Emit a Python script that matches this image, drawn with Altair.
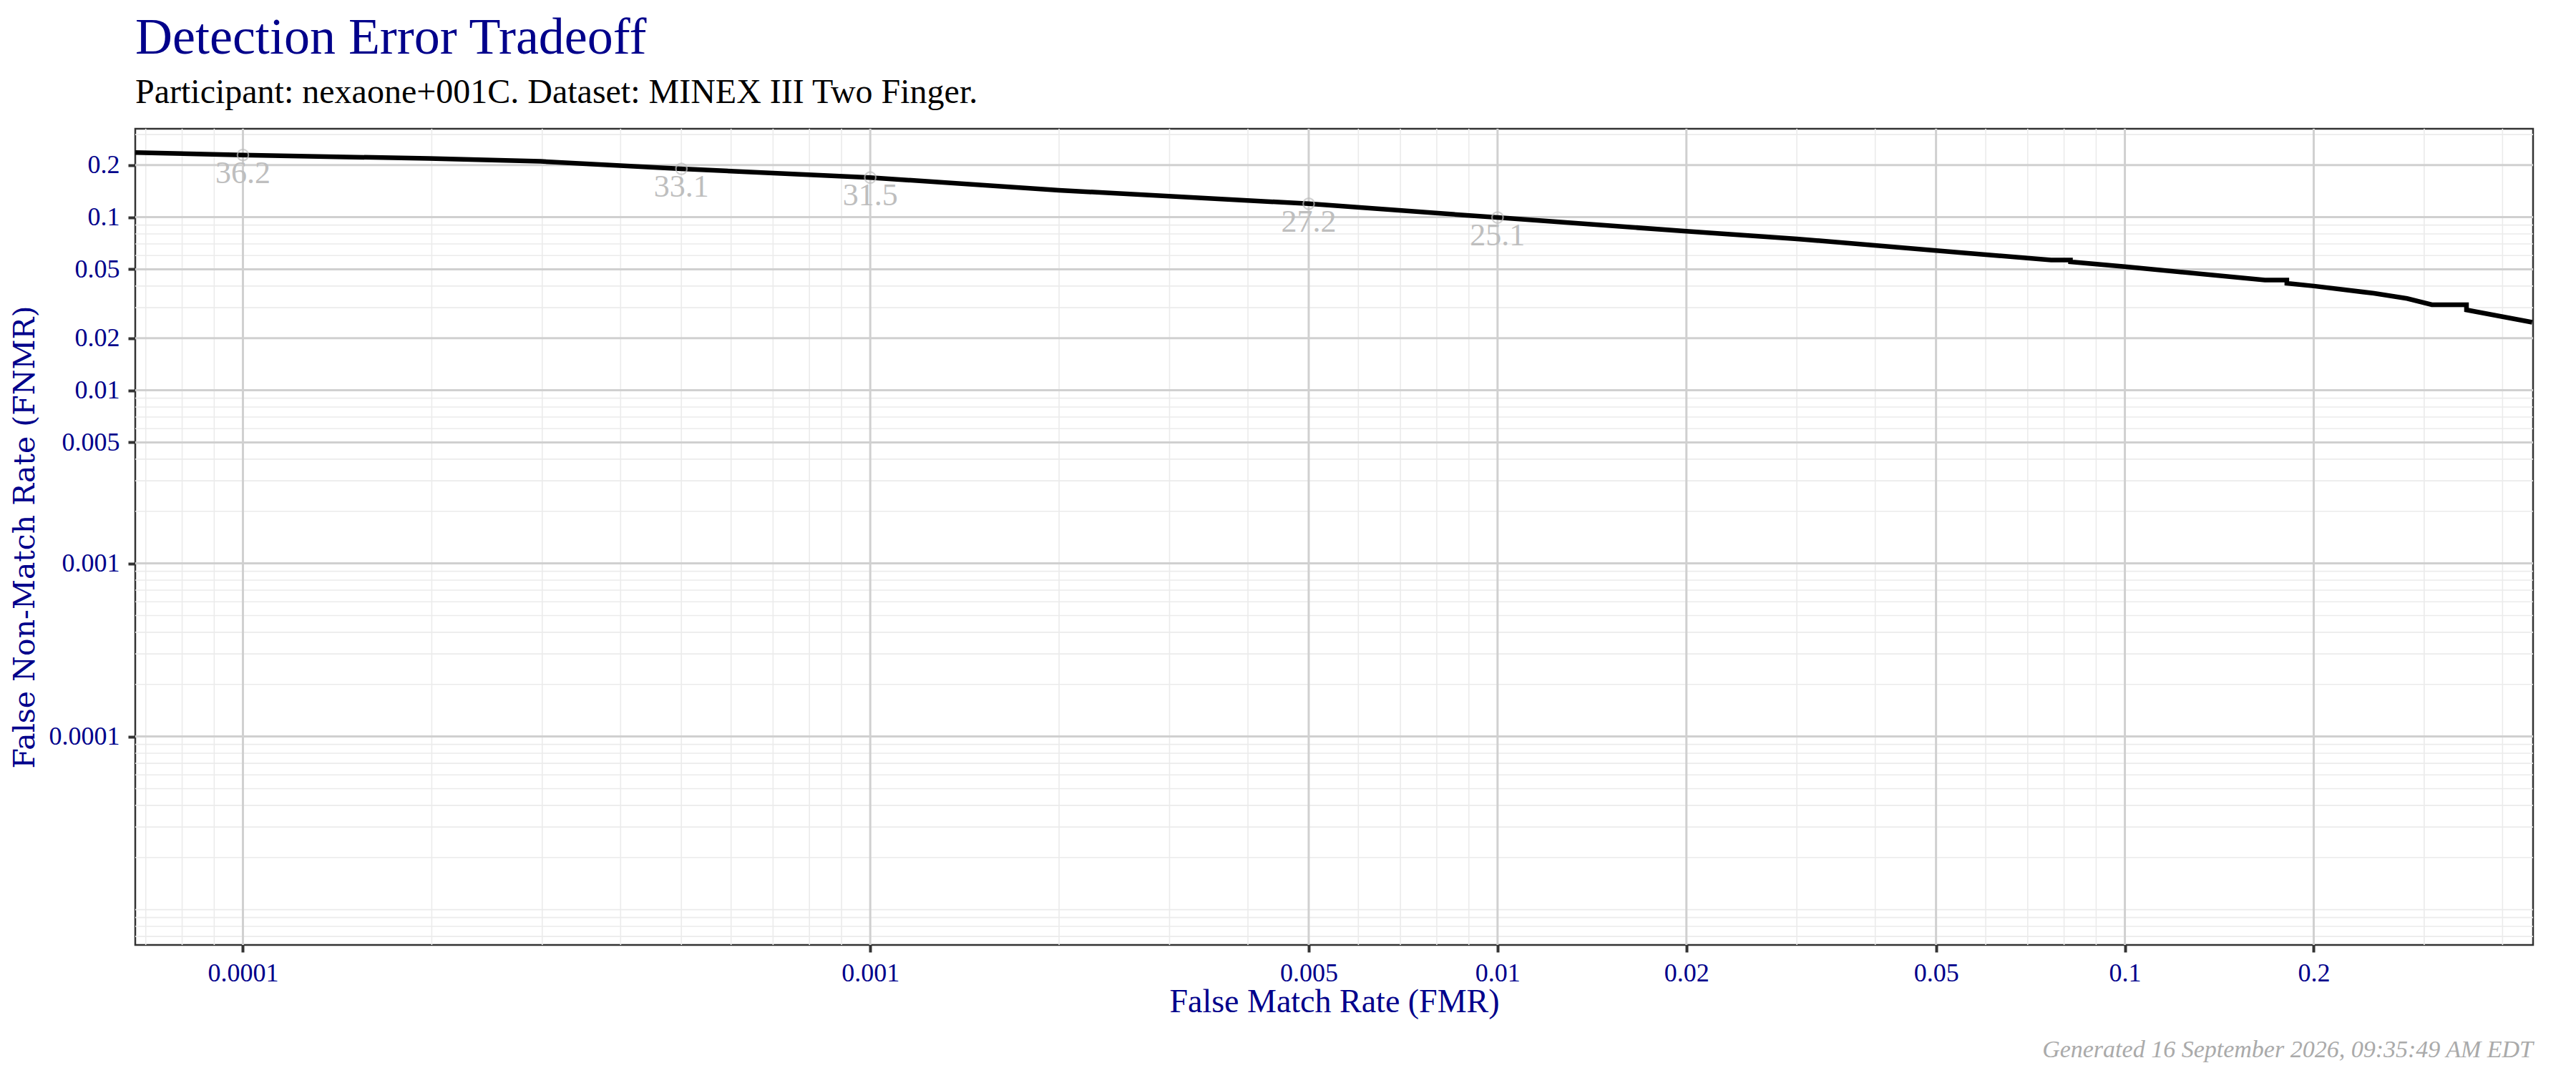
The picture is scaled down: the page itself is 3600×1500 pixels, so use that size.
import altair as alt
import pandas as pd

# ---- data ----
FMR = [6.74e-5, 1.0e-4, 1.98e-4, 2.98e-4, 5.0e-4, 0.001, 0.002, 0.005, 0.01,
       0.02, 0.030, 0.050, 0.0763, 0.0819, 0.0819, 0.1, 0.1672, 0.1812, 0.1812,
       0.2002, 0.2496, 0.2817, 0.3086, 0.3504, 0.3504, 0.4459]
FNMR = [0.2361, 0.2286, 0.2181, 0.2100, 0.1902, 0.1693, 0.1430, 0.1195, 0.0995,
        0.0829, 0.0749, 0.0641, 0.0565, 0.0565, 0.0552, 0.0518, 0.0433, 0.0433, 0.0415,
        0.0400, 0.0363, 0.0339, 0.0312, 0.0312, 0.0291, 0.0247]

ANN_FMR = [1e-4, 5e-4, 1e-3, 5e-3, 1e-2]
ANN_FNMR = [0.2286, 0.1902, 0.1693, 0.1195, 0.0995]
ANN_LABEL = ["36.2", "33.1", "31.5", "27.2", "25.1"]

X_BREAKS = [0.0001, 0.001, 0.005, 0.01, 0.02, 0.05, 0.1, 0.2]
Y_BREAKS = [0.0001, 0.001, 0.005, 0.01, 0.02, 0.05, 0.1, 0.2]
X_DOMAIN = [6.735e-5, 0.4474]
Y_DOMAIN = [6.25e-6, 0.324]

TITLE = "Detection Error Tradeoff"
SUBTITLE = "Participant: nexaone+001C. Dataset: MINEX III Two Finger."
X_TITLE = "False Match Rate (FMR)"
Y_TITLE = "False Non-Match Rate (FNMR)"
CAPTION = "Generated 16 September 2026, 09:35:49 AM EDT"


def minor_values(lo, hi, majors):
    out = []
    for e in range(-7, 1):
        for k in range(1, 10):
            v = float(f"{k}e{e}")
            if lo <= v <= hi and not any(abs(v - m) / m < 1e-9 for m in majors):
                out.append(v)
    return out


X_MINOR = minor_values(*X_DOMAIN, X_BREAKS)
Y_MINOR = minor_values(*Y_DOMAIN, Y_BREAKS)

W, H = 3351, 1141
BLUE = "#00008B"
SERIF = "Liberation Serif"

xs = alt.Scale(type="log", domain=X_DOMAIN, nice=False)
ys = alt.Scale(type="log", domain=Y_DOMAIN, nice=False)

x_axis = alt.Axis(values=X_BREAKS, labelExpr="'' + datum.value", title=X_TITLE,
                  titlePadding=0)
y_axis = alt.Axis(values=Y_BREAKS, labelExpr="'' + datum.value", title=Y_TITLE,
                  titleFont="DejaVu Serif", titleFontSize=41, titlePadding=12)

curve = pd.DataFrame({"fmr": FMR, "fnmr": FNMR, "i": list(range(len(FMR)))})
ann = pd.DataFrame({"fmr": ANN_FMR, "fnmr": ANN_FNMR, "label": ANN_LABEL})
xminor = pd.DataFrame({"fmr": X_MINOR})
yminor = pd.DataFrame({"fnmr": Y_MINOR})
xmajor = pd.DataFrame({"fmr": X_BREAKS})
ymajor = pd.DataFrame({"fnmr": Y_BREAKS})
cap = pd.DataFrame({"t": [CAPTION]})

grid_minor_c = "#ebebeb"
grid_major_c = "#d0d0d0"

X = alt.X("fmr:Q", scale=xs, axis=x_axis)
Y = alt.Y("fnmr:Q", scale=ys, axis=y_axis)

l_xminor = alt.Chart(xminor).mark_rule(color=grid_minor_c, strokeWidth=1.6).encode(x=X)
l_yminor = alt.Chart(yminor).mark_rule(color=grid_minor_c, strokeWidth=1.6).encode(y=Y)
l_xmajor = alt.Chart(xmajor).mark_rule(color=grid_major_c, strokeWidth=3).encode(x=X)
l_ymajor = alt.Chart(ymajor).mark_rule(color=grid_major_c, strokeWidth=3).encode(y=Y)

l_line = alt.Chart(curve).mark_line(color="black", strokeWidth=6.5, clip=True).encode(
    x=X, y=Y, order="i:Q")

l_pts = alt.Chart(ann).mark_point(shape="circle", filled=False, color="#bebebe",
                                  strokeWidth=2.2, size=240).encode(x=X, y=Y)

l_txt = alt.Chart(ann).mark_text(font=SERIF, fontSize=44, color="#bebebe",
                                 baseline="alphabetic", align="center", dy=39).encode(
    x=X, y=Y, text="label:N")

l_cap = alt.Chart(cap).mark_text(font=SERIF, fontSize=34, fontStyle="italic",
                                 color="#aaaaaa", align="right",
                                 baseline="alphabetic").encode(
    x=alt.value(W), y=alt.value(H + 157), text="t:N")

chart = alt.layer(
    l_xminor, l_yminor, l_xmajor, l_ymajor, l_line, l_pts, l_txt, l_cap
).properties(
    width=W, height=H,
    title=alt.TitleParams(
        text=TITLE, subtitle=SUBTITLE, anchor="start", frame="group",
        font=SERIF, fontSize=72, fontWeight="normal", color=BLUE,
        subtitleFont=SERIF, subtitleFontSize=48, subtitleColor="black",
        subtitlePadding=16, offset=24,
    ),
    padding={"left": 181, "top": 172, "right": 40, "bottom": 170},
    autosize=alt.AutoSizeParams(type="none"),
).configure_view(
    stroke="#333333", strokeWidth=2.5
).configure_axis(
    labelFont=SERIF, labelFontSize=36, labelColor=BLUE,
    titleFont=SERIF, titleFontSize=46, titleColor=BLUE, titleFontWeight="normal",
    tickColor="#333333", tickWidth=4, tickSize=10, labelPadding=12,
    domain=False, grid=False,
)

chart.save("out.html", embed_options={"renderer": "svg", "actions": False})
